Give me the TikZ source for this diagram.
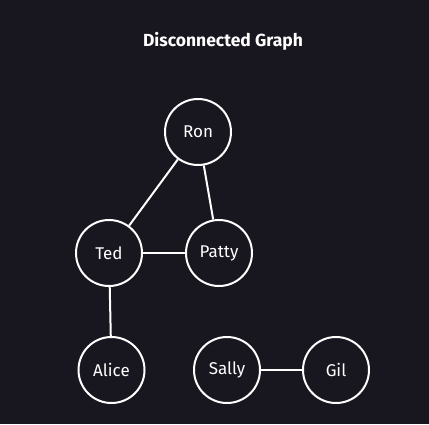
\documentclass[tikz,border=0pt]{standalone}
\usepackage{fontspec}
\setmainfont{Fira Sans}
\definecolor{bg}{HTML}{18161F}
\begin{document}
\begin{tikzpicture}[x=1pt,y=-1pt,
  vertex/.style={circle,draw=white,line width=2pt,minimum size=66pt,inner sep=0pt,text=white,font=\fontsize{17}{19}\selectfont},
  edge/.style={draw=white,line width=2pt}]
\fill[bg] (0,0) rectangle (429,424);
\useasboundingbox (0,0) rectangle (429,424);
\node[text=white,font=\bfseries\fontsize{17.5}{20}\selectfont] (title) at (223,41) {Disconnected Graph};
\node[vertex] (ron) at (198,132) {Ron};
\node[vertex] (ted) at (109,253) {Ted};
\node[vertex] (patty) at (219,253) {Patty};
\node[vertex] (alice) at (111.5,370) {Alice};
\node[vertex] (sally) at (227,370) {Sally};
\node[vertex] (gil) at (336,370) {Gil};
\draw[edge] (ron) -- (ted);
\draw[edge] (ron) -- (patty);
\draw[edge] (ted) -- (patty);
\draw[edge] (ted) -- (alice);
\draw[edge] (sally) -- (gil);
\end{tikzpicture}
\end{document}
